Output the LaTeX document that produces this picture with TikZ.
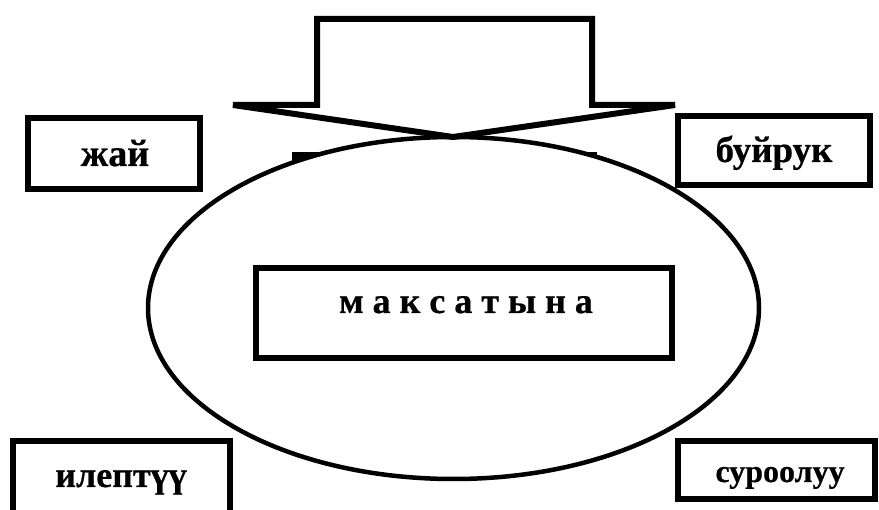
\documentclass[tikz,border=0pt]{standalone}
\usepackage{fontspec}
\usetikzlibrary{shapes.geometric}
\setmainfont{Liberation Serif}
\newfontfamily\heavy[UprightFont={* Bold},FakeBold=0.6]{Liberation Serif}
\begin{document}
\begin{tikzpicture}[x=1pt,y=-1pt,
  box/.style={draw,line width=6pt,fill=white},
  lbl/.style={font=\heavy\fontsize{37}{40}\selectfont,inner sep=0pt,anchor=base}]
\useasboundingbox (0,0) rectangle (879,510);
% hidden rectangle behind ellipse
\draw[line width=6pt] (295,155) rectangle (594,260);
% ellipse
\node[draw,fill=white,line width=4.5pt,ellipse,inner sep=0pt,minimum width=611pt,minimum height=342pt] (ell) at (453.5,308) {};
% top arrow
\draw[line width=6pt,fill=white] (233,105) -- (317,105) -- (317,19) -- (592,19) -- (592,105) -- (675,105) -- (453,137) -- cycle;
% boxes
\draw[box] (28,118) rectangle (200,189);
\node[lbl,font=\heavy\fontsize{38}{40}\selectfont] (jai) at (115,166) {жай};
\draw[box] (678,116) rectangle (870,185);
\node[lbl] (buiruk) at (774,162) {буйрук};
\draw[box] (13,441) rectangle (230,520);
\node[lbl,font=\heavy\fontsize{36}{40}\selectfont] (ilept) at (121,487) {илептүү};
\draw[box] (678,441) rectangle (875,499);
\node[lbl,font=\heavy\fontsize{32}{36}\selectfont] (suroo) at (780,482) {суроолуу};
\draw[box] (256,268) rectangle (672,358);
\node[lbl,font=\heavy\fontsize{36}{40}\selectfont] (maks) at (466,313) {м а к с а т ы н а};
\end{tikzpicture}
\end{document}
